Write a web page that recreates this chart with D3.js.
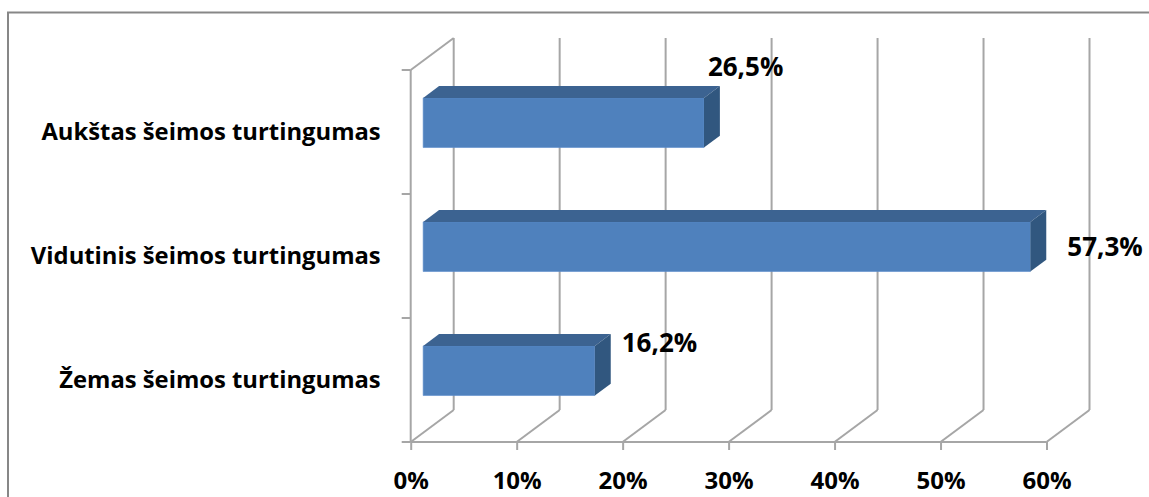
<!DOCTYPE html>
<html>
<head>
<meta charset="utf-8">
<script src="https://cdn.jsdelivr.net/npm/d3@7/dist/d3.min.js"></script>
<style>
  html, body { margin: 0; padding: 0; background: #fff; }
  svg { display: block; }
  text { font-family: "Open Sans", "Noto Sans", sans-serif; font-weight: bold; fill: #000; }
</style>
</head>
<body>
<svg id="chart" width="1149" height="497"></svg>
<script>
// ---- data ----
const categories = ["Aukštas šeimos turtingumas", "Vidutinis šeimos turtingumas", "Žemas šeimos turtingumas"];
const values = [0.265, 0.573, 0.162];
const valueLabels = ["26,5%", "57,3%", "16,2%"];
const tickValues = [0, 0.1, 0.2, 0.3, 0.4, 0.5, 0.6];
const tickLabels = ["0%", "10%", "20%", "30%", "40%", "50%", "60%"];

// ---- layout ----
const W = 1149, H = 497;
const FONT = "'Open Sans', 'Noto Sans', sans-serif";
const svg = d3.select("#chart");
const plot = { left: 410.7, right: 1046.5, top: 70, bottom: 442 };
const depth = { dx: 43, dy: -32 };
const barFront = 0.29, barBack = 0.66;
const gridColor = "#a6a6a6";
const colors = { front: "#4f81bd", top: "#3c6391", side: "#31577f" };
// manual nudges of data labels relative to bar end (layout, not data)
const labelNudge = [[-12, -56], [21, 0], [11, -28]];

const x = d3.scaleLinear().domain([0, 0.6]).range([plot.left, plot.right]);
const y = d3.scaleBand().domain(categories).range([plot.top, plot.bottom])
  .paddingInner(0.6).paddingOuter(0.3);

// outer border
svg.append("rect").attr("x", 8).attr("y", 12.5).attr("width", W + 20).attr("height", H + 20)
  .attr("fill", "none").attr("stroke", "#878787").attr("stroke-width", 2);

const grid = svg.append("g").attr("stroke", gridColor).attr("stroke-width", 2).attr("fill", "none");

// floor diagonals + back wall verticals
tickValues.forEach(t => {
  const fx = x(t);
  grid.append("line").attr("x1", fx).attr("y1", plot.bottom)
    .attr("x2", fx + depth.dx).attr("y2", plot.bottom + depth.dy);
  grid.append("line").attr("x1", fx + depth.dx).attr("y1", plot.bottom + depth.dy)
    .attr("x2", fx + depth.dx).attr("y2", plot.top + depth.dy);
});
// left wall: front vertical + top diagonal
grid.append("line").attr("x1", x(0)).attr("y1", plot.top).attr("x2", x(0)).attr("y2", plot.bottom);
grid.append("line").attr("x1", x(0)).attr("y1", plot.top)
  .attr("x2", x(0) + depth.dx).attr("y2", plot.top + depth.dy);
// floor front edge
grid.append("line").attr("x1", x(0)).attr("y1", plot.bottom).attr("x2", x(0.6)).attr("y2", plot.bottom);

// left ticks at category boundaries
const boundaries = d3.range(categories.length + 1).map(i => plot.top + i * y.step());
grid.selectAll(".lt").data(boundaries).join("line")
  .attr("x1", x(0) - 9).attr("x2", x(0)).attr("y1", d => d).attr("y2", d => d);

// bottom axis
const xAxis = d3.axisBottom(x).tickValues(tickValues).tickFormat((d, i) => tickLabels[i]).tickSize(8);
const gx = svg.append("g").attr("transform", `translate(0,${plot.bottom})`).call(xAxis);
gx.select(".domain").remove();
gx.selectAll(".tick line").attr("stroke", gridColor).attr("stroke-width", 2);
gx.selectAll(".tick text").attr("y", 46.5).attr("dy", null)
  .style("font-size", "24px").style("font-family", FONT).style("font-weight", "bold");

// left axis labels
const yAxis = d3.axisLeft(y).tickSize(0).tickPadding(30);
const gy = svg.append("g").attr("transform", `translate(${x(0)},0)`).call(yAxis);
gy.select(".domain").remove();
gy.selectAll(".tick text").attr("dy", "0.35em")
  .style("font-size", "23.8px").style("font-family", FONT).style("font-weight", "bold");

// bars
const fO = { x: depth.dx * barFront, y: depth.dy * barFront };
const bO = { x: depth.dx * barBack, y: depth.dy * barBack };
const bars = svg.append("g");
categories.forEach((c, i) => {
  const x0 = x(0), xv = x(values[i]);
  const yt = y(c), yb = y(c) + y.bandwidth();
  const pts = a => a.map(p => p.join(",")).join(" ");
  bars.append("polygon").attr("fill", colors.front).attr("stroke", "#5a8ccb").attr("stroke-width", 0.6)
    .attr("points", pts([[x0 + fO.x, yt + fO.y], [xv + fO.x, yt + fO.y], [xv + fO.x, yb + fO.y], [x0 + fO.x, yb + fO.y]]));
  bars.append("polygon").attr("fill", colors.top)
    .attr("points", pts([[x0 + fO.x, yt + fO.y], [x0 + bO.x, yt + bO.y], [xv + bO.x, yt + bO.y], [xv + fO.x, yt + fO.y]]));
  bars.append("polygon").attr("fill", colors.side)
    .attr("points", pts([[xv + fO.x, yt + fO.y], [xv + bO.x, yt + bO.y], [xv + bO.x, yb + bO.y], [xv + fO.x, yb + fO.y]]));
});

// data labels
svg.append("g").selectAll("text").data(categories).join("text")
  .attr("x", (c, i) => x(values[i]) + bO.x + labelNudge[i][0])
  .attr("y", (c, i) => y(c) + y.bandwidth() / 2 + labelNudge[i][1])
  .style("font-size", "26px").style("font-family", FONT).style("font-weight", "bold")
  .text((c, i) => valueLabels[i]);
</script>
</body>
</html>
